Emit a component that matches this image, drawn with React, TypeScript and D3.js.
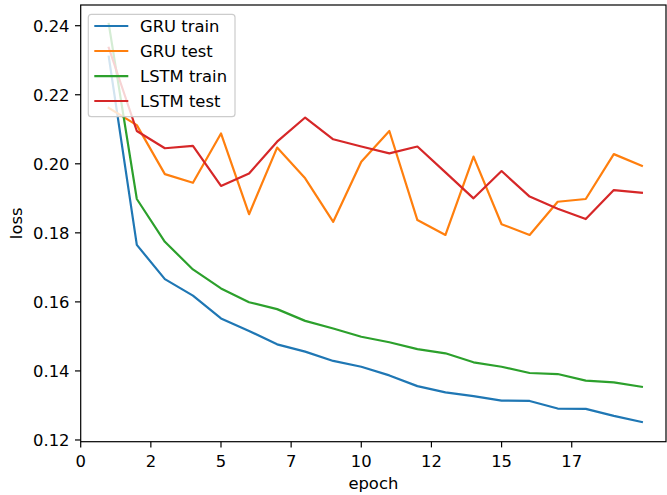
import React, { useEffect } from "react";
import * as d3 from "d3";

const epochs = [1, 2, 3, 4, 5, 6, 7, 8, 9, 10, 11, 12, 13, 14, 15, 16, 17, 18, 19, 20];
const gruTrain = [0.2310, 0.1765, 0.1666, 0.1618, 0.1552, 0.1516, 0.1477, 0.1456, 0.1429, 0.1412, 0.1387, 0.1356, 0.1338, 0.1327, 0.1314, 0.1313, 0.1291, 0.1290, 0.1270, 0.1252];
const gruTest = [0.2162, 0.2112, 0.1970, 0.1945, 0.2088, 0.1854, 0.2047, 0.1958, 0.1832, 0.2006, 0.2095, 0.1837, 0.1794, 0.2021, 0.1825, 0.1794, 0.1890, 0.1898, 0.2028, 0.1994];
const lstmTrain = [0.2405, 0.1898, 0.1774, 0.1694, 0.1639, 0.1599, 0.1579, 0.1545, 0.1523, 0.1499, 0.1483, 0.1463, 0.1451, 0.1425, 0.1412, 0.1394, 0.1391, 0.1372, 0.1367, 0.1354];
const lstmTest = [0.2336, 0.2095, 0.2045, 0.2052, 0.1936, 0.1972, 0.2064, 0.2134, 0.2071, 0.2050, 0.2030, 0.2050, 0.1975, 0.1900, 0.1979, 0.1905, 0.1870, 0.1840, 0.1924, 0.1916];

const seriesNames = ["GRU train", "GRU test", "LSTM train", "LSTM test"];
const seriesValues = [gruTrain, gruTest, lstmTrain, lstmTest];
const seriesColors = ["#1f77b4", "#ff7f0e", "#2ca02c", "#d62728"];

const xTickValues = [0, 2.5, 5, 7.5, 10, 12.5, 15, 17.5];
const yTickValues = [0.12, 0.14, 0.16, 0.18, 0.2, 0.22, 0.24];

const W = 667;
const H = 495;
const L = 80.7;
const R = 666;
const T = 5;
const B = 441.7;
const FONT = "'DejaVu Sans', sans-serif";
const FS = 16.4;

export default function App() {
  useEffect(() => {
    document.body.style.margin = "0";
  }, []);

  const x = d3.scaleLinear().domain([0, 20.86]).range([L, R]);
  const y = d3.scaleLinear().domain([0.1195, 0.246]).range([B, T]);

  const line = d3
    .line<number>()
    .x((_, i) => x(epochs[i]))
    .y((d) => y(d));

  const legendX = 88.3;
  const legendY = 14.3;
  const legendW = 146.7;
  const legendH = 102.4;
  const entryY = [26, 51, 76.2, 101];

  return (
    <svg width={W} height={H} style={{ position: "absolute", left: 0, top: 0, background: "#fff" }}>
      <rect x={0} y={0} width={W} height={H} fill="#fff" />
      <defs>
        <clipPath id="plotclip">
          <rect x={L} y={T} width={R - L} height={B - T} />
        </clipPath>
      </defs>
      <g clipPath="url(#plotclip)">
        {seriesValues.map((vals, k) => (
          <path
            key={k}
            d={line(vals) || ""}
            fill="none"
            stroke={seriesColors[k]}
            strokeWidth={2.2}
            strokeLinejoin="round"
            strokeLinecap="square"
          />
        ))}
      </g>
      <rect x={L} y={T} width={R - L} height={B - T} fill="none" stroke="#000" strokeWidth={1.2} />
      {xTickValues.map((t) => (
        <g key={"x" + t}>
          <line x1={x(t)} x2={x(t)} y1={B} y2={B + 5.7} stroke="#000" strokeWidth={1.2} />
          <text x={x(t)} y={467} textAnchor="middle" fontFamily={FONT} fontSize={FS} fill="#000">
            {Math.floor(t)}
          </text>
        </g>
      ))}
      {yTickValues.map((t) => (
        <g key={"y" + t}>
          <line x1={L - 5.7} x2={L} y1={y(t)} y2={y(t)} stroke="#000" strokeWidth={1.2} />
          <text x={L - 11.2} y={y(t) + 6} textAnchor="end" fontFamily={FONT} fontSize={FS} fill="#000">
            {t.toFixed(2)}
          </text>
        </g>
      ))}
      <text x={(L + R) / 2} y={488.5} textAnchor="middle" fontFamily={FONT} fontSize={FS} fill="#000">
        epoch
      </text>
      <text
        transform={`translate(22, ${(T + B) / 2}) rotate(-90)`}
        textAnchor="middle"
        fontFamily={FONT}
        fontSize={FS}
        fill="#000"
      >
        loss
      </text>
      <rect
        x={legendX}
        y={legendY}
        width={legendW}
        height={legendH}
        rx={3}
        ry={3}
        fill="#fff"
        fillOpacity={0.8}
        stroke="#cccccc"
        strokeWidth={1.2}
      />
      {seriesNames.map((name, k) => (
        <g key={name}>
          <line x1={94.3} x2={128.3} y1={entryY[k]} y2={entryY[k]} stroke={seriesColors[k]} strokeWidth={2.2} />
          <text x={140} y={entryY[k] + 6} fontFamily={FONT} fontSize={FS} fill="#000">
            {name}
          </text>
        </g>
      ))}
    </svg>
  );
}
